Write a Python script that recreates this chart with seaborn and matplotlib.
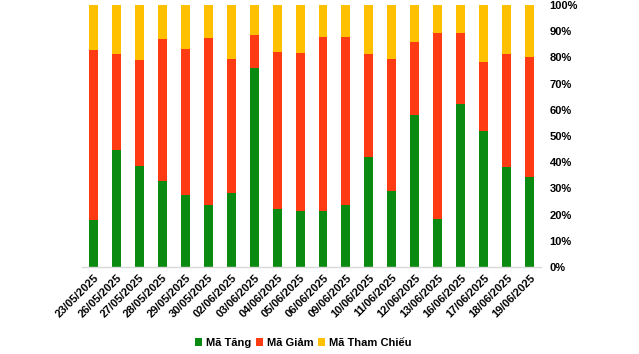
import matplotlib
matplotlib.use("Agg")
import matplotlib.pyplot as plt
import seaborn as sns
import pandas as pd
from matplotlib.patches import Patch
from matplotlib.ticker import PercentFormatter

# --- DADOS ---
dates = ["23/05/2025", "26/05/2025", "27/05/2025", "28/05/2025", "29/05/2025",
         "30/05/2025", "02/06/2025", "03/06/2025", "04/06/2025", "05/06/2025",
         "06/06/2025", "09/06/2025", "10/06/2025", "11/06/2025", "12/06/2025",
         "13/06/2025", "16/06/2025", "17/06/2025", "18/06/2025", "19/06/2025"]
ma_tang = [18.0, 44.7, 38.7, 32.9, 27.6, 23.8, 28.1, 76.1, 22.2, 21.5,
           21.5, 23.5, 42.1, 29.1, 58.1, 18.4, 62.4, 52.0, 38.2, 34.4]
ma_giam = [64.8, 36.6, 40.3, 54.1, 55.6, 63.7, 51.3, 12.5, 59.9, 60.2,
           66.3, 64.3, 39.2, 50.3, 27.8, 70.9, 26.9, 26.3, 43.1, 45.8]
ma_tham_chieu = [100 - a - b for a, b in zip(ma_tang, ma_giam)]

labels = ["Mã Tăng", "Mã Giảm", "Mã Tham Chiếu"]
colors = ["#0B8A12", "#FF3B14", "#FFC000"]

df = pd.DataFrame({"date": dates, "tang": ma_tang, "giam": ma_giam, "tc": ma_tham_chieu})
df["top_giam"] = df["tang"] + df["giam"]
df["top_tc"] = df["top_giam"] + df["tc"]

plt.rcParams["font.family"] = ["Liberation Sans", "DejaVu Sans"]

fig = plt.figure(figsize=(6.39, 3.54), dpi=100)
ax = fig.add_axes([0.128, 0.2458, 0.719, 0.7401])

# barras empilhadas: desenha do total para baixo
sns.barplot(data=df, x="date", y="top_tc", color=colors[2], width=0.39, ax=ax, saturation=1)
sns.barplot(data=df, x="date", y="top_giam", color=colors[1], width=0.39, ax=ax, saturation=1)
sns.barplot(data=df, x="date", y="tang", color=colors[0], width=0.39, ax=ax, saturation=1)

ax.set_xlim(-0.5, len(dates) - 0.5)
ax.set_ylim(0, 100)
ax.set_yticks(range(0, 101, 10))
ax.yaxis.set_major_formatter(PercentFormatter(decimals=0))
ax.yaxis.tick_right()
ax.set_xlabel("")
ax.set_ylabel("")
ax.tick_params(axis="both", length=0)
ax.tick_params(axis="y", pad=6)
for t in ax.get_yticklabels():
    t.set_fontsize(8)
    t.set_fontweight("bold")
ax.set_xticks(range(len(dates)))
ax.set_xticklabels(dates, rotation=45, ha="right", rotation_mode="anchor",
                   fontsize=8, fontweight="bold")
ax.tick_params(axis="x", pad=4)

for s in ["left", "right", "top"]:
    ax.spines[s].set_visible(False)
ax.spines["bottom"].set_color("#D9D9D9")
ax.spines["bottom"].set_linewidth(1)

handles = [Patch(facecolor=c, label=l) for c, l in zip(colors, labels)]
fig.legend(handles=handles, loc="center", bbox_to_anchor=(303 / 639, 1 - 343 / 354),
           ncol=3, frameon=False, handlelength=0.7, handleheight=0.7,
           handletextpad=0.3, columnspacing=0.4, prop={"weight": "bold", "size": 8})

fig.savefig("out.png", dpi=100)
